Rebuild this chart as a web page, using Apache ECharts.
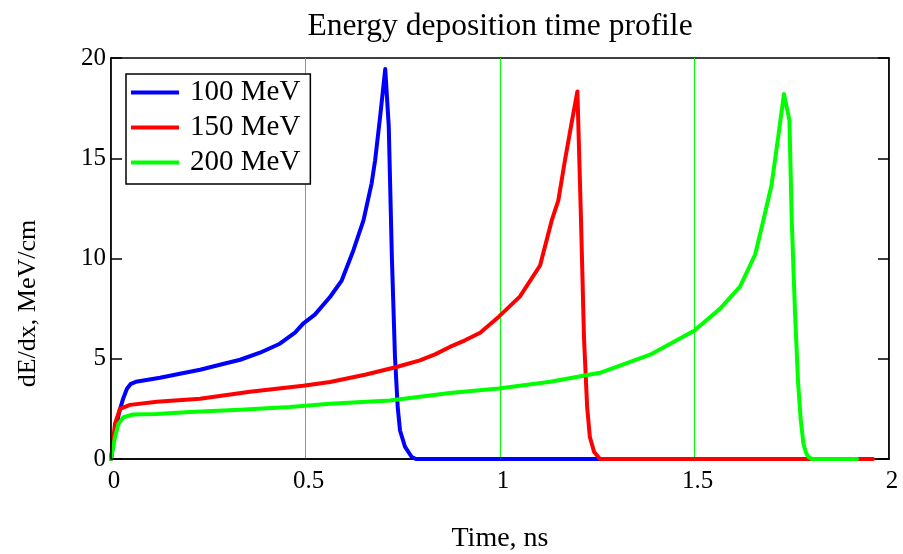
<!DOCTYPE html>
<html>
<head>
<meta charset="utf-8">
<script src="https://cdn.jsdelivr.net/npm/echarts@6/dist/echarts.min.js"></script>
<style>html,body{margin:0;padding:0;background:#fff;}#c{width:903px;height:554px;}</style>
</head>
<body>
<div id="c"></div>
<script>
// Energy deposition time profile
var seriesNames = ['100 MeV', '150 MeV', '200 MeV'];
var xTicks = [0, 0.5, 1, 1.5, 2];
var yTicks = [0, 5, 10, 15, 20];

var t100 = [0, 0.0103, 0.0206, 0.031, 0.041, 0.051, 0.064, 0.126, 0.177, 0.229, 0.280, 0.332, 0.383, 0.434, 0.473, 0.494, 0.524, 0.563, 0.593, 0.623, 0.649, 0.670, 0.679, 0.692, 0.705, 0.714, 0.722, 0.730, 0.737, 0.743, 0.756, 0.773, 0.784, 1.40];
var v100 = [0, 1.3, 2.3, 3.0, 3.5, 3.75, 3.85, 4.05, 4.25, 4.45, 4.7, 4.95, 5.3, 5.75, 6.3, 6.75, 7.2, 8.08, 8.9, 10.4, 11.9, 13.75, 14.9, 17.1, 19.45, 16.6, 10.1, 5.1, 2.6, 1.42, 0.6, 0.1, 0, 0];

var t150 = [0, 0.0103, 0.023, 0.049, 0.118, 0.229, 0.357, 0.494, 0.563, 0.653, 0.734, 0.794, 0.833, 0.871, 0.910, 0.949, 0.997, 1.051, 1.103, 1.133, 1.150, 1.167, 1.184, 1.199, 1.208, 1.216, 1.224, 1.231, 1.242, 1.257, 1.959];
var v150 = [0, 1.75, 2.5, 2.7, 2.85, 3.0, 3.35, 3.65, 3.84, 4.2, 4.59, 4.92, 5.22, 5.59, 5.92, 6.3, 7.1, 8.1, 9.65, 11.9, 12.9, 14.9, 16.75, 18.33, 12.1, 6.0, 2.6, 1.1, 0.35, 0, 0];

var t200 = [0, 0.0103, 0.019, 0.032, 0.057, 0.117, 0.203, 0.332, 0.460, 0.563, 0.717, 0.871, 0.997, 1.129, 1.257, 1.386, 1.499, 1.566, 1.617, 1.656, 1.677, 1.698, 1.713, 1.730, 1.744, 1.750, 1.758, 1.766, 1.773, 1.780, 1.787, 1.793, 1.802, 1.918];
var v200 = [0, 1.1, 1.75, 2.08, 2.22, 2.24, 2.34, 2.46, 2.59, 2.76, 2.92, 3.29, 3.52, 3.85, 4.3, 5.2, 6.4, 7.5, 8.6, 10.2, 11.9, 13.65, 15.75, 18.2, 16.9, 11.9, 7.5, 3.9, 2.0, 0.76, 0.3, 0.1, 0, 0];

function pairs(t, v) { return t.map(function (x, i) { return [x, v[i]]; }); }

var FONT = "'Liberation Serif', 'Times New Roman', serif";
var colors = ['#0000ff', '#ff0000', '#00ff00'];
var datasets = [pairs(t100, v100), pairs(t150, v150), pairs(t200, v200)];

var chart = echarts.init(document.getElementById('c'), null, { renderer: 'canvas' });
chart.setOption({
  animation: false,
  backgroundColor: '#fff',
  title: {
    text: 'Energy deposition time profile',
    left: 500, textAlign: 'center',
    top: 11, padding: 0,
    textStyle: { fontFamily: FONT, fontSize: 31.5, fontWeight: 'normal', color: '#000' }
  },
  legend: {
    orient: 'vertical',
    left: 126, top: 74,
    padding: [4, 10, 7, 5],
    itemGap: 6,
    itemWidth: 48, itemHeight: 4,
    icon: 'rect',
    backgroundColor: '#fff',
    borderColor: '#000', borderWidth: 1.5, borderRadius: 0,
    data: seriesNames,
    textStyle: { fontFamily: FONT, fontSize: 29, lineHeight: 29, color: '#000', padding: [0, 0, 0, 6] }
  },
  grid: {
    left: 111, right: 14, top: 58, bottom: 95,
    outerBoundsMode: 'none', containLabel: false,
    show: true, borderColor: '#000', borderWidth: 1.5, backgroundColor: 'transparent'
  },
  xAxis: {
    type: 'value', min: xTicks[0], max: xTicks[xTicks.length - 1], interval: 0.5,
    name: 'Time, ns', nameLocation: 'middle', nameGap: 66,
    nameTextStyle: { fontFamily: FONT, fontSize: 28, color: '#000' },
    axisLine: { show: true, lineStyle: { color: '#000', width: 1.5 } },
    axisTick: { show: false },
    splitLine: { show: true, lineStyle: { color: '#00ff00', width: 1 } },
    axisLabel: {
      fontFamily: FONT, fontSize: 25, color: '#000', margin: 10, padding: [0, 0, 0, 6],
      formatter: function (v) { return String(v); }
    }
  },
  yAxis: [{
    type: 'value', min: yTicks[0], max: yTicks[yTicks.length - 1], interval: 5,
    position: 'left', z: 5,
    name: 'dE/dx, MeV/cm', nameLocation: 'middle', nameGap: 70,
    nameTextStyle: { fontFamily: FONT, fontSize: 26, color: '#000', padding: [0, 90, 0, 0] },
    axisLine: { show: true, lineStyle: { color: '#000', width: 1.5 } },
    axisTick: { show: true, inside: true, length: 11, lineStyle: { color: '#000', width: 1.5 } },
    splitLine: { show: false },
    axisLabel: { fontFamily: FONT, fontSize: 25, color: '#000', margin: 5 }
  }, {
    type: 'value', min: yTicks[0], max: yTicks[yTicks.length - 1], interval: 5,
    position: 'right', z: 5,
    axisLine: { show: true, lineStyle: { color: '#000', width: 1.5 } },
    axisTick: { show: true, inside: true, length: 11, lineStyle: { color: '#000', width: 1.5 } },
    splitLine: { show: false },
    axisLabel: { show: false }
  }],
  series: datasets.map(function (d, i) {
    return {
      name: seriesNames[i], type: 'line', data: d, yAxisIndex: 0,
      showSymbol: false, symbol: 'none', smooth: false,
      lineStyle: { color: colors[i], width: 4, join: 'round', cap: 'round' },
      itemStyle: { color: colors[i] },
      z: 2 + i
    };
  })
});
</script>
</body>
</html>
